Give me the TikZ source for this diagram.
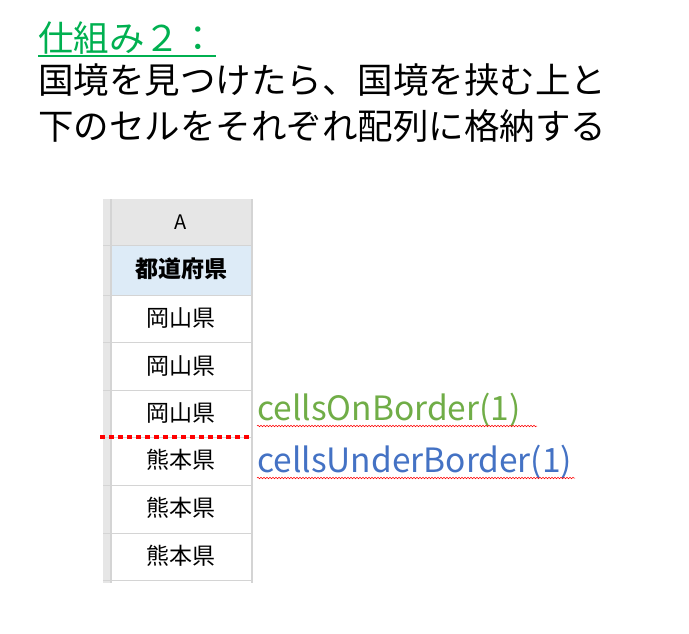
\documentclass[tikz,border=0pt]{standalone}
\usepackage{fontspec}
\setmainfont{Noto Sans CJK JP}
\usetikzlibrary{decorations.pathmorphing}
\definecolor{tgreen}{HTML}{00B050}
\definecolor{lgreen}{HTML}{70AD47}
\definecolor{lblue}{HTML}{4472C4}
\definecolor{hdr}{HTML}{E6E6E6}
\definecolor{hblue}{HTML}{DDEBF7}
\definecolor{grid}{HTML}{D4D4D4}
\begin{document}
\begin{tikzpicture}[x=1pt,y=-1pt,
  big/.style={font=\fontsize{35.5}{38}\selectfont,anchor=west,inner sep=0},
  cell/.style={font=\fontsize{23}{26}\selectfont,inner sep=0},
  lab/.style={font=\fontsize{33.5}{36}\selectfont,anchor=west,inner sep=0},
  wavy/.style={draw=red,line width=0.5pt,decorate,decoration={snake,amplitude=0.8pt,segment length=3pt}}]
\useasboundingbox (0,0) rectangle (689,634);
\node[big,text=tgreen] (t) at (38,38) {仕組み２：};
\draw[tgreen,line width=1.2pt] (38,56) -- (216,56);
\node[big] (l1) at (38,80) {国境を見つけたら、国境を挟む上と};
\node[big] (l2) at (38,126) {下のセルをそれぞれ配列に格納する};
% sheet
\fill[hdr] (103,199) rectangle (253,245);
\fill[hdr] (103,245) rectangle (111,583);
\fill[hblue] (111,245) rectangle (253,295);
\draw[grid,line width=1.5pt] (111,199) -- (111,583);
\draw[grid,line width=1.5pt] (252,199) -- (252,583);
\draw[grid] (103,245) -- (253,245);
\foreach \y in {295,342,390,437,485,533,580} \draw[grid,line width=1pt] (103,\y) -- (253,\y);
\node[cell,font=\fontsize{20}{24}\selectfont] (A) at (181,222) {A};
\node[cell,font=\fontsize{23}{26}\selectfont\bfseries] (h) at (181,269) {都道府県};
\node[cell] (r1) at (181,318) {岡山県};
\node[cell] (r2) at (181,366) {岡山県};
\node[cell] (r3) at (181,413) {岡山県};
\node[cell] (r4) at (181,460) {熊本県};
\node[cell] (r5) at (181,508) {熊本県};
\node[cell] (r6) at (181,556) {熊本県};
\draw[red,line width=4pt,dash pattern=on 5pt off 4pt] (100,437) -- (250,437);
\node[lab,text=lgreen] (on) at (257,410) {cellsOnBorder(1)};
\node[lab,text=lblue] (un) at (257,462) {cellsUnderBorder(1)};
\draw[wavy] (257,426) -- (537,426);
\draw[wavy] (257,478) -- (575,478);
\end{tikzpicture}
\end{document}
